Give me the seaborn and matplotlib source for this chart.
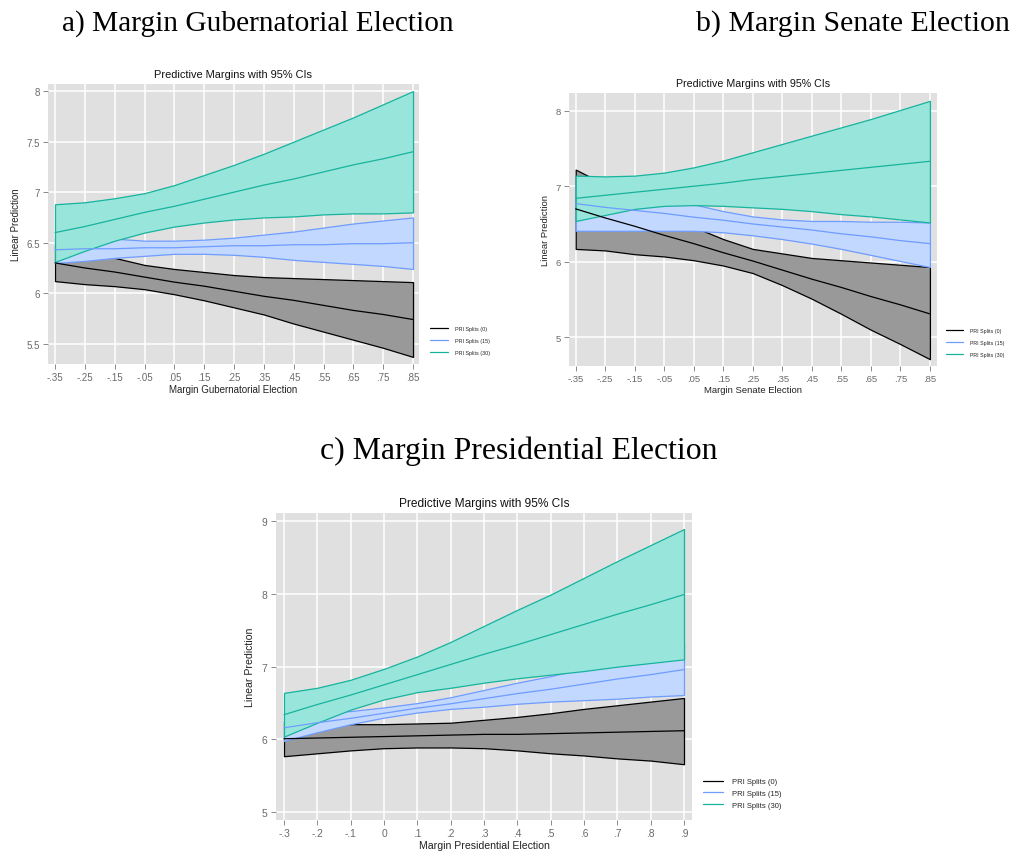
import numpy as np
import pandas as pd
import matplotlib
matplotlib.use("Agg")
import matplotlib.pyplot as plt
import seaborn as sns

sns.set_style("white")
plt.rcParams["font.family"] = ["Liberation Sans", "DejaVu Sans"]

# ---------------------------------------------------------------------------
# Predictive margins (linear prediction) with 95% CIs, by PRI splits
# ---------------------------------------------------------------------------
SERIES = ["PRI Splits (0)", "PRI Splits (15)", "PRI Splits (30)"]

# a) Margin Gubernatorial Election
gov_x = [-.35, -.25, -.15, -.05, .05, .15, .25, .35, .45, .55, .65, .75, .85]
gov_mean_0 = [6.30, 6.25, 6.21, 6.16, 6.11, 6.07, 6.02, 5.97, 5.93, 5.88, 5.83, 5.79, 5.74]
gov_lo_0 = [6.12, 6.09, 6.07, 6.04, 5.99, 5.93, 5.86, 5.79, 5.70, 5.62, 5.54, 5.46, 5.37]
gov_hi_0 = [6.48, 6.41, 6.35, 6.28, 6.24, 6.21, 6.18, 6.16, 6.15, 6.14, 6.13, 6.12, 6.11]
gov_mean_15 = [6.43, 6.44, 6.44, 6.45, 6.45, 6.46, 6.47, 6.47, 6.48, 6.48, 6.49, 6.49, 6.50]
gov_lo_15 = [6.30, 6.32, 6.35, 6.37, 6.39, 6.39, 6.38, 6.36, 6.33, 6.31, 6.29, 6.27, 6.24]
gov_hi_15 = [6.56, 6.55, 6.54, 6.52, 6.52, 6.53, 6.55, 6.58, 6.61, 6.65, 6.69, 6.72, 6.75]
gov_mean_30 = [6.60, 6.66, 6.73, 6.80, 6.86, 6.93, 7.00, 7.07, 7.13, 7.20, 7.27, 7.33, 7.40]
gov_lo_30 = [6.31, 6.42, 6.52, 6.60, 6.66, 6.70, 6.73, 6.75, 6.76, 6.78, 6.79, 6.79, 6.80]
gov_hi_30 = [6.88, 6.90, 6.94, 6.99, 7.07, 7.17, 7.27, 7.38, 7.50, 7.62, 7.74, 7.87, 8.00]
gov_xticklabels = ["-.35", "-.25", "-.15", "-.05", ".05", ".15", ".25", ".35",
                   ".45", ".55", ".65", ".75", ".85"]
gov_yticks = [5.5, 6, 6.5, 7, 7.5, 8]
gov_yticklabels = ["5.5", "6", "6.5", "7", "7.5", "8"]

# b) Margin Senate Election
sen_x = [-.35, -.25, -.15, -.05, .05, .15, .25, .35, .45, .55, .65, .75, .85]
sen_mean_0 = [6.70, 6.58, 6.47, 6.35, 6.24, 6.12, 6.01, 5.89, 5.77, 5.66, 5.54, 5.43, 5.31]
sen_lo_0 = [6.17, 6.15, 6.10, 6.07, 6.02, 5.95, 5.85, 5.69, 5.51, 5.31, 5.10, 4.91, 4.71]
sen_hi_0 = [7.22, 7.02, 6.84, 6.64, 6.46, 6.30, 6.17, 6.11, 6.05, 6.02, 5.99, 5.96, 5.93]
sen_mean_15 = [6.77, 6.72, 6.68, 6.64, 6.59, 6.55, 6.50, 6.46, 6.42, 6.37, 6.33, 6.28, 6.24]
sen_lo_15 = [6.41, 6.41, 6.41, 6.41, 6.41, 6.39, 6.35, 6.30, 6.24, 6.17, 6.09, 6.01, 5.93]
sen_hi_15 = [7.10, 7.00, 6.92, 6.84, 6.76, 6.67, 6.60, 6.56, 6.54, 6.54, 6.53, 6.53, 6.52]
sen_mean_30 = [6.84, 6.88, 6.92, 6.96, 7.00, 7.04, 7.09, 7.13, 7.17, 7.21, 7.25, 7.29, 7.33]
sen_lo_30 = [6.54, 6.62, 6.70, 6.74, 6.75, 6.74, 6.72, 6.70, 6.67, 6.63, 6.60, 6.56, 6.52]
sen_hi_30 = [7.14, 7.13, 7.14, 7.18, 7.25, 7.34, 7.45, 7.56, 7.67, 7.78, 7.89, 8.01, 8.13]
sen_xticklabels = gov_xticklabels
sen_yticks = [5, 6, 7, 8]
sen_yticklabels = ["5", "6", "7", "8"]

# c) Margin Presidential Election
pres_x = [-.3, -.2, -.1, 0, .1, .2, .3, .4, .5, .6, .7, .8, .9]
pres_mean_0 = [6.01, 6.02, 6.03, 6.04, 6.05, 6.06, 6.07, 6.07, 6.08, 6.09, 6.10, 6.11, 6.12]
pres_lo_0 = [5.77, 5.81, 5.85, 5.88, 5.89, 5.89, 5.88, 5.85, 5.81, 5.78, 5.74, 5.71, 5.66]
pres_hi_0 = [6.25, 6.23, 6.21, 6.21, 6.22, 6.23, 6.27, 6.31, 6.36, 6.42, 6.47, 6.52, 6.57]
pres_mean_15 = [6.16, 6.23, 6.29, 6.36, 6.43, 6.49, 6.56, 6.63, 6.69, 6.76, 6.83, 6.89, 6.96]
pres_lo_15 = [5.98, 6.10, 6.21, 6.30, 6.37, 6.42, 6.45, 6.49, 6.52, 6.54, 6.56, 6.59, 6.61]
pres_hi_15 = [6.33, 6.36, 6.39, 6.44, 6.50, 6.58, 6.68, 6.78, 6.87, 6.98, 7.09, 7.20, 7.33]
pres_mean_30 = [6.34, 6.48, 6.61, 6.75, 6.89, 7.03, 7.17, 7.30, 7.44, 7.58, 7.72, 7.85, 7.99]
pres_lo_30 = [6.04, 6.23, 6.41, 6.55, 6.65, 6.71, 6.78, 6.84, 6.89, 6.94, 7.00, 7.05, 7.10]
pres_hi_30 = [6.64, 6.71, 6.82, 6.97, 7.14, 7.34, 7.56, 7.78, 7.99, 8.22, 8.45, 8.67, 8.89]
pres_xticklabels = ["-.3", "-.2", "-.1", "0", ".1", ".2", ".3", ".4", ".5", ".6", ".7", ".8", ".9"]
pres_yticks = [5, 6, 7, 8, 9]
pres_yticklabels = ["5", "6", "7", "8", "9"]

# ---------------------------------------------------------------------------
LINE_COLORS = ["#000000", "#6F9CFF", "#17B39D"]
FILL_COLORS = ["#999999", "#C2D8FF", "#98E5DB"]
PLOT_BG = "#E0E0E0"
TICK_GRAY = "#6A6A6A"

W, H = 1017, 854
fig = plt.figure(figsize=(W / 100, H / 100), dpi=100)
fig.patch.set_facecolor("white")


def px_axes(left, top, right, bottom):
    return fig.add_axes([left / W, 1 - bottom / H, (right - left) / W, (bottom - top) / H])


def draw_panel(ax, x, means, los, his, xticklabels, yticks, yticklabels,
               xlim, ylim, xlabel, fs_tick, fs_label, fs_title, legend_spec,
               xlabelpad, ylabelpad):
    ax.set_facecolor(PLOT_BG)
    for s in ax.spines.values():
        s.set_visible(False)
    ax.set_axisbelow(True)
    ax.grid(True, color="white", lw=1.1)

    # confidence bands, drawn in series order so later bands sit on top
    for k in range(3):
        ax.fill_between(x, los[k], his[k], facecolor=FILL_COLORS[k],
                        edgecolor=LINE_COLORS[k], linewidth=0.9, zorder=2 + k)

    # point estimates
    df = pd.DataFrame({
        "x": np.tile(x, 3),
        "y": np.concatenate(means),
        "series": np.repeat(SERIES, len(x)),
    })
    sns.lineplot(data=df, x="x", y="y", hue="series", hue_order=SERIES,
                 palette=LINE_COLORS, ax=ax, linewidth=0.9, zorder=6,
                 legend=True, errorbar=None)

    ax.set_xlim(*xlim)
    ax.set_ylim(*ylim)
    ax.set_xticks(x)
    ax.set_xticklabels(xticklabels)
    ax.set_yticks(yticks)
    ax.set_yticklabels(yticklabels)
    ax.tick_params(axis="both", direction="out", length=3.5, width=0.7,
                   color="#8A8A8A", labelcolor=TICK_GRAY, labelsize=fs_tick, pad=2.5)
    ax.tick_params(axis="x", bottom=True)
    ax.tick_params(axis="y", left=True)
    ax.set_xlabel(xlabel, fontsize=fs_label, color="#222222", labelpad=xlabelpad)
    ax.set_ylabel("Linear Prediction", fontsize=fs_label, color="#222222", labelpad=ylabelpad)
    ax.set_title("Predictive Margins with 95% CIs", fontsize=fs_title, color="#111111", pad=5)

    lx, ly, lfs, hlen, hpad, lspace = legend_spec
    sns.move_legend(ax, "center left", bbox_to_anchor=(lx / W, 1 - ly / H),
                    bbox_transform=fig.transFigure, frameon=False, title=None,
                    fontsize=lfs, handlelength=hlen, handletextpad=hpad,
                    labelspacing=lspace, borderpad=0, borderaxespad=0)


# panel a
ax_a = px_axes(48, 85, 419, 365)
draw_panel(ax_a, gov_x,
           [gov_mean_0, gov_mean_15, gov_mean_30],
           [gov_lo_0, gov_lo_15, gov_lo_30],
           [gov_hi_0, gov_hi_15, gov_hi_30],
           gov_xticklabels, gov_yticks, gov_yticklabels,
           (-.3735, .870), (5.30, 8.07), "Margin Gubernatorial Election",
           7.0, 7.0, 7.9, (430, 341.5, 3.9, 3.3, 1.3, 1.25), 1.5, 4)

# panel b
ax_b = px_axes(569, 94, 937, 367)
draw_panel(ax_b, sen_x,
           [sen_mean_0, sen_mean_15, sen_mean_30],
           [sen_lo_0, sen_lo_15, sen_lo_30],
           [sen_hi_0, sen_hi_15, sen_hi_30],
           sen_xticklabels, sen_yticks, sen_yticklabels,
           (-.3727, .874), (4.62, 8.234), "Margin Senate Election",
           6.8, 6.8, 7.7, (946, 343.5, 3.75, 3.3, 1.3, 1.3), 1.0, 4)

# panel c
ax_c = px_axes(276, 514, 692, 821)
draw_panel(ax_c, pres_x,
           [pres_mean_0, pres_mean_15, pres_mean_30],
           [pres_lo_0, pres_lo_15, pres_lo_30],
           [pres_hi_0, pres_hi_15, pres_hi_30],
           pres_xticklabels, pres_yticks, pres_yticklabels,
           (-.324, .924), (4.894, 9.11), "Margin Presidential Election",
           7.4, 7.6, 8.6, (703, 794.3, 5.5, 2.6, 1.2, 0.55), 1.5, 5)

# panel headings
serif = ["Liberation Serif", "DejaVu Serif"]
fig.text(62 / W, 1 - 31 / H, "a) Margin Gubernatorial Election", ha="left",
         va="baseline", fontsize=21.2, family=serif, color="black")
fig.text(1010 / W, 1 - 31 / H, "b) Margin Senate Election", ha="right",
         va="baseline", fontsize=21.5, family=serif, color="black")
fig.text(519 / W, 1 - 459 / H, "c) Margin Presidential Election", ha="center",
         va="baseline", fontsize=22.9, family=serif, color="black")

fig.savefig("out.png", dpi=100)
